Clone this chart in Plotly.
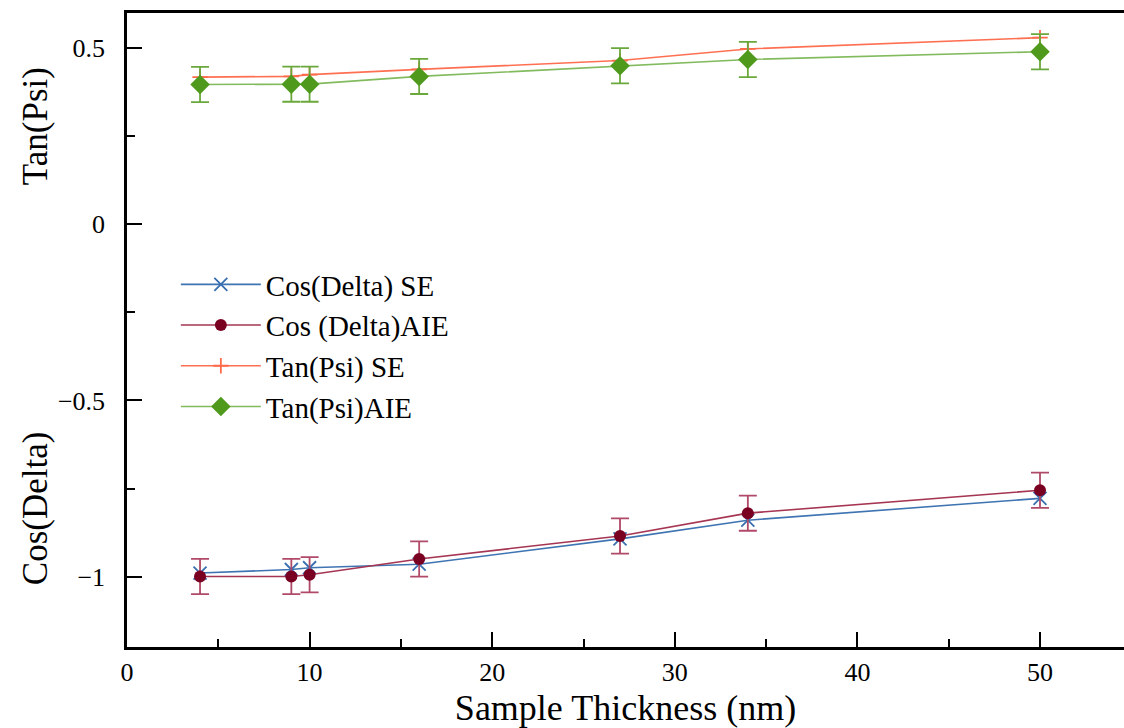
import plotly.graph_objects as go

thickness = [4, 9, 10, 16, 27, 34, 50]
cos_delta_se = [-0.99, -0.98, -0.975, -0.965, -0.893, -0.84, -0.778]
cos_delta_aie = [-1.0, -1.0, -0.995, -0.95, -0.885, -0.82, -0.755]
cos_delta_aie_err = [0.05, 0.05, 0.05, 0.05, 0.05, 0.05, 0.05]
tan_psi_se = [0.418, 0.42, 0.425, 0.44, 0.465, 0.498, 0.53]
tan_psi_aie = [0.397, 0.398, 0.398, 0.42, 0.45, 0.468, 0.49]
tan_psi_aie_err = [0.05, 0.05, 0.05, 0.05, 0.05, 0.05, 0.05]

FONT = "Liberation Serif, Times New Roman, serif"

fig = go.Figure()
fig.add_trace(go.Scatter(
    x=thickness, y=cos_delta_se, name="Cos(Delta) SE", mode="lines+markers",
    line=dict(color="#3f74b2", width=1.6),
    marker=dict(symbol="x-thin", size=13, line=dict(color="#3a6fb0", width=1.8)),
))
fig.add_trace(go.Scatter(
    x=thickness, y=cos_delta_aie, name="Cos (Delta)AIE", mode="lines+markers",
    line=dict(color="#a53552", width=1.6),
    marker=dict(symbol="circle", size=12, color="#7a0022"),
    error_y=dict(type="data", array=cos_delta_aie_err, visible=True,
                 color="#b04a68", thickness=1.8, width=9),
))
fig.add_trace(go.Scatter(
    x=thickness, y=tan_psi_se, name="Tan(Psi) SE", mode="lines+markers",
    line=dict(color="#ff7052", width=1.6),
    marker=dict(symbol="cross-thin", size=11, line=dict(color="#ff6a4a", width=1.8)),
))
fig.add_trace(go.Scatter(
    x=thickness, y=tan_psi_aie, name="Tan(Psi)AIE", mode="lines+markers",
    line=dict(color="#82bb5e", width=1.6),
    marker=dict(symbol="diamond", size=15, color="#4f9a1c"),
    error_y=dict(type="data", array=tan_psi_aie_err, visible=True,
                 color="#6aa83c", thickness=1.8, width=9),
))

fig.update_layout(
    width=1124, height=728,
    margin=dict(l=127, r=0, t=13, b=81),
    paper_bgcolor="white", plot_bgcolor="white",
    font=dict(family=FONT, color="black", size=26),
    showlegend=True,
    legend=dict(x=0.049, y=0.612, xanchor="left", yanchor="top",
                bgcolor="rgba(0,0,0,0)", borderwidth=0,
                font=dict(family=FONT, size=29), itemwidth=80),
    xaxis=dict(
        range=[0, 54.6], dtick=10, tick0=0,
        showline=True, linecolor="black", linewidth=2.5, mirror=True,
        ticks="inside", ticklen=15, tickwidth=2, tickcolor="black",
        minor=dict(dtick=5, ticks="inside", ticklen=8, tickwidth=2, tickcolor="black"),
        showgrid=False, zeroline=False,
        tickfont=dict(family=FONT, size=26),
        title=dict(text="Sample Thickness (nm)", font=dict(family=FONT, size=36), standoff=10),
    ),
    yaxis=dict(
        range=[-1.2, 0.6], dtick=0.5, tick0=0,
        showline=True, linecolor="black", linewidth=2.5,
        ticks="inside", ticklen=15, tickwidth=2, tickcolor="black",
        minor=dict(dtick=0.25, ticks="inside", ticklen=8, tickwidth=2, tickcolor="black"),
        showgrid=False, zeroline=False,
        tickfont=dict(family=FONT, size=26),
        ticklabelstandoff=14,
    ),
    annotations=[
        dict(text="Tan(Psi)", xref="paper", yref="paper", x=-0.0923, y=0.8214,
             xanchor="center", yanchor="middle",
             textangle=-90, showarrow=False, font=dict(family=FONT, size=35)),
        dict(text="Cos(Delta)", xref="paper", yref="paper", x=-0.0923, y=0.219,
             xanchor="center", yanchor="middle",
             textangle=-90, showarrow=False, font=dict(family=FONT, size=35)),
    ],
)

fig.write_html("out.html")
